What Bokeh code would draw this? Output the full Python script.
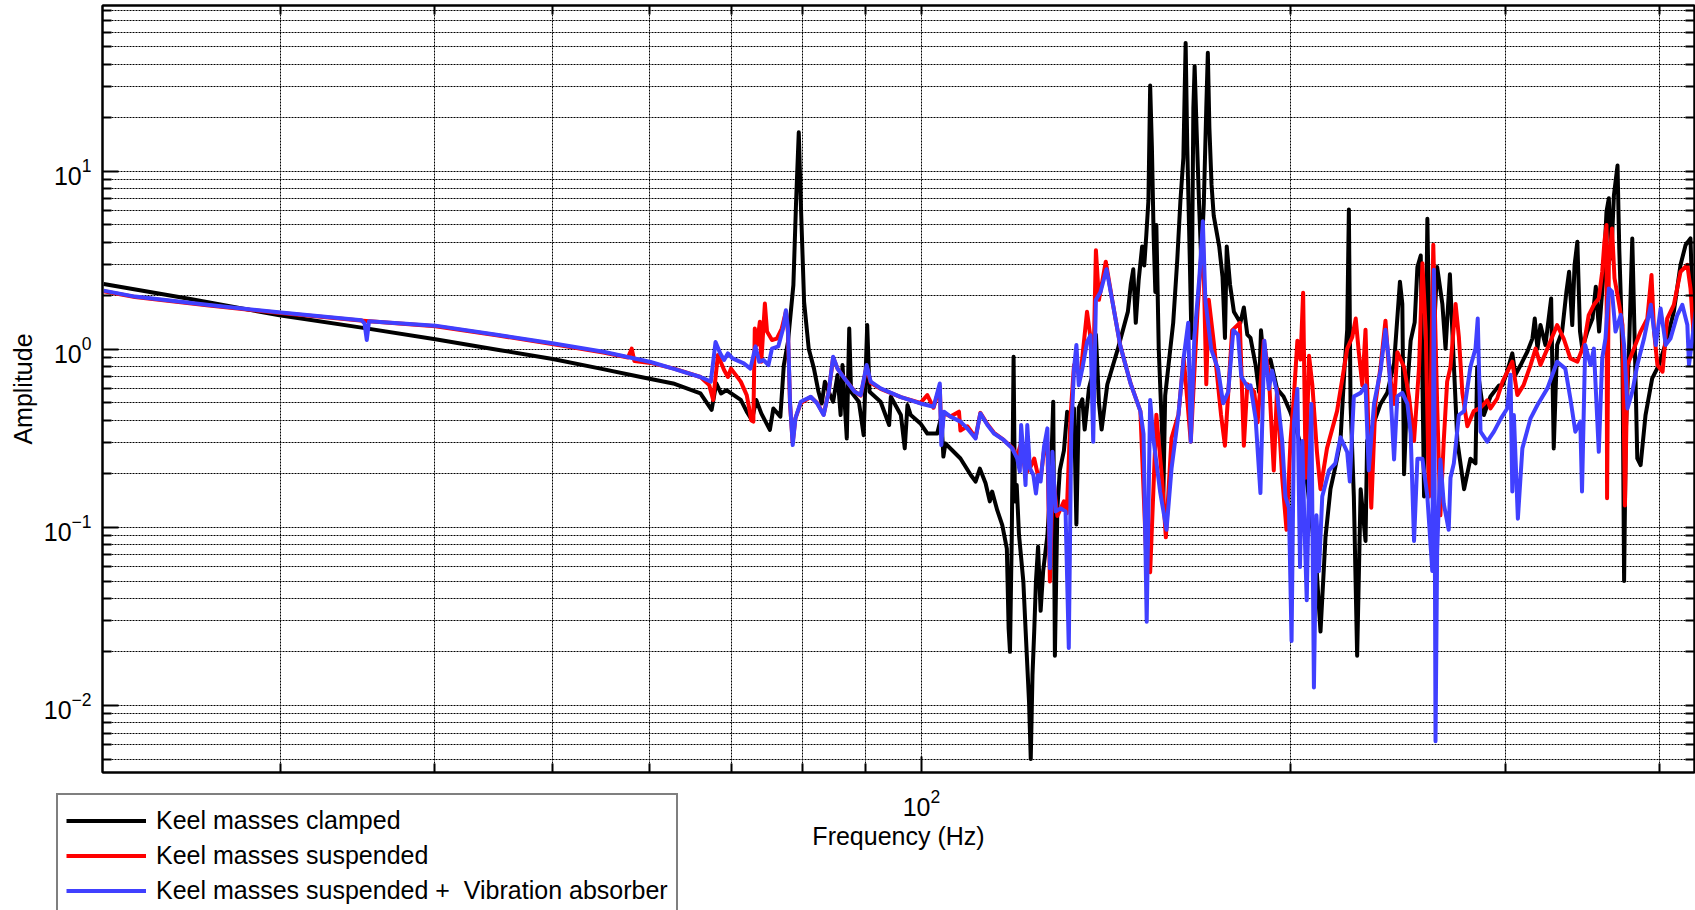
from bokeh.plotting import figure
from bokeh.models import FixedTicker, Legend, LegendItem, Range1d, LogAxis
from bokeh.layouts import column
from bokeh.embed import file_html
from bokeh.resources import INLINE

# ---------------- data ----------------
series_names = ["Keel masses clamped", "Keel masses suspended",
                "Keel masses suspended +  Vibration absorber"]
series_colors = ["#000000", "#ff0000", "#4040ff"]

x_major_ticks = [100]
x_minor_ticks = [30, 40, 50, 60, 70, 80, 90, 200, 300, 400]
y_major_ticks = [0.01, 0.1, 1, 10]
y_minor_ticks = [k * 10.0 ** e for e in (-3, -2, -1, 0, 1) for k in range(2, 10)]

freq_clamped = [21.5, 25.3, 30.0, 34.8, 40.1, 45.3, 50.0, 54.7, 59.0, 62.7, 66.0, 67.4, 68.0, 68.6, 69.3,
                71.2, 72.0, 72.7, 73.3, 74.0, 75.2, 75.7, 76.7, 77.2, 77.8, 78.6, 79.0, 79.4, 79.7, 80.2,
                80.9, 81.7, 82.4, 82.9, 83.4, 84.0, 84.7, 85.4, 85.9, 86.2, 86.9, 87.3, 87.6, 88.9, 89.7,
                90.3, 90.7, 92.6, 94.1, 94.4, 96.2, 96.9, 97.4, 98.0, 99.8, 101.1, 103.0, 103.8, 104.2,
                104.6, 107.6, 109.7, 110.7, 111.6, 112.8, 113.7, 114.2, 115.3, 116.4, 117.4, 117.8, 118.1,
                118.5, 118.9, 119.2, 119.6, 120.1, 121.1, 121.6, 122.4, 122.8, 123.2, 123.6, 124.0, 124.5,
                125.1, 125.7, 126.7, 127.5, 128.1, 128.5, 129.1, 129.7, 130.7, 131.5, 132.6, 133.2, 133.8,
                134.4, 135.3, 135.9, 137.0, 138.3, 138.8, 139.6, 140.3, 141.8, 144.6, 147.4, 148.2, 148.9,
                149.6, 150.4, 151.4, 152.0, 152.6, 153.2, 153.7, 154.2, 154.7, 155.2, 155.5, 156.2, 157.2,
                157.5, 158.1, 159.1, 160.5, 161.7, 162.7, 163.6, 164.3, 164.8, 165.6, 166.1, 166.7, 167.1,
                167.7, 168.5, 169.2, 170.0, 170.8, 171.3, 171.8, 172.5, 173.2, 175.0, 176.1, 176.9, 177.5,
                178.6, 179.9, 182.1, 183.3, 184.5, 185.6, 187.4, 188.6, 189.3, 190.3, 190.9, 192.7, 195.1,
                197.5, 199.9, 202.4, 205.2, 207.8, 210.1, 211.7, 213.7, 215.7, 217.7, 219.8, 221.5, 222.6,
                223.3, 224.0, 225.4, 226.8, 228.3, 230.4, 231.1, 234.1, 237.0, 240.0, 243.1, 245.8, 246.9,
                247.7, 249.3, 250.8, 252.7, 254.0, 255.6, 257.2, 258.8, 260.3, 263.6, 266.2, 267.8, 270.0,
                271.2, 273.8, 277.3, 280.6, 283.3, 284.2, 287.8, 291.4, 296.1, 298.1, 300.7, 303.6, 305.4,
                308.4, 312.3, 315.3, 316.7, 318.3, 320.1, 323.1, 326.6, 328.2, 330.3, 333.4, 336.1, 337.8,
                339.8, 341.3, 343.1, 344.8, 346.3, 349.6, 353.0, 355.2, 357.4, 360.5, 362.4, 364.0, 365.6,
                367.5, 370.0, 371.2, 372.3, 373.5, 374.6, 375.8, 378.1, 380.4, 382.1, 384.0, 386.4, 390.0,
                394.9, 399.9, 406.2, 411.3, 416.5, 420.5, 424.4, 427.1]
amp_clamped = [2.33, 1.92, 1.55, 1.33, 1.14, 0.99, 0.883, 0.78, 0.70, 0.644, 0.566, 0.457, 0.644, 0.566, 0.59,
               0.52, 0.447, 0.401, 0.52, 0.437, 0.353, 0.466, 0.419, 0.817, 1.10, 2.30, 6.75, 16.6, 6.75, 1.85,
               1.01, 0.78, 0.578, 0.497, 0.659, 0.578, 0.508, 0.718, 0.428, 0.817, 0.316, 1.31, 0.578, 0.508, 0.33,
               1.37, 0.578, 0.508, 0.376, 0.542, 0.428, 0.278, 0.487, 0.428, 0.384, 0.337, 0.337, 0.419, 0.25,
               0.296, 0.244, 0.197, 0.181, 0.214, 0.177, 0.14, 0.159, 0.125, 0.103, 0.076, 0.027, 0.02,
               0.091, 0.91, 0.14, 0.173, 0.092, 0.0497, 0.027, 0.0105, 0.005, 0.0148, 0.026, 0.0497, 0.078,
               0.034, 0.057, 0.09, 0.181, 0.508, 0.019, 0.128, 0.21, 0.27, 0.447, 0.38, 0.466, 0.104,
               0.47, 0.525, 0.355, 0.605, 0.78, 1.21, 0.50, 0.355, 0.635, 1.0, 1.63, 2.31, 2.82,
               1.41, 2.43, 3.79, 2.96, 4.41, 6.87, 30.4, 13.8, 4.41, 2.1, 5.0, 1.0, 0.335,
               0.131, 0.55, 0.817, 1.41, 3.11, 6.87, 11.9, 52.7, 13.8, 3.11, 1.16, 22.7, 39.0,
               17.6, 6.54, 3.11, 6.54, 22.7, 46.4, 17.6, 8.4, 5.65, 3.79, 2.55, 1.16, 3.79,
               2.31, 1.63, 1.41, 1.72, 1.21, 1.16, 0.817, 0.577, 1.28, 0.858, 0.797, 0.877, 0.6,
               0.544, 0.45, 0.35, 0.25, 0.12, 0.06, 0.026, 0.088, 0.164, 0.219, 0.306, 0.797, 1.29,
               6.1, 0.494, 0.149, 0.019, 0.164, 0.084, 0.306, 0.389, 0.494, 0.57, 0.836, 2.4, 1.8,
               0.199, 0.628, 1.12, 1.42, 2.9, 3.37, 0.149, 5.42, 0.494, 2.9, 1.8, 1.01, 2.64,
               1.29, 0.306, 0.164, 0.243, 0.229, 0.797, 0.428, 0.544, 0.628, 0.63, 0.75, 0.95, 0.72,
               0.817, 0.97, 1.15, 1.49, 1.01, 1.37, 1.06, 1.93, 0.278, 1.06, 1.26, 2.11, 2.73,
               1.37, 2.98, 4.02, 1.26, 1.01, 1.26, 1.49, 2.25, 1.26, 2.73, 5.94, 7.06, 3.24,
               7.35, 10.8, 3.69, 1.93, 0.817, 0.05, 0.345, 1.01, 4.2, 1.15, 0.244, 0.224, 0.428,
               0.687, 0.817, 1.15, 1.63, 2.98, 3.86, 4.2, 1.01]

freq_suspended = [21.5, 22.8, 26.1, 30.0, 35.0, 40.1, 45.0, 50.1, 55.0, 57.6, 58.0, 58.3, 60.1, 62.8, 66.0,
                  67.1, 67.6, 68.2, 69.0, 69.5, 69.9, 71.2, 72.0, 72.3, 72.6, 72.9, 73.1, 73.4, 73.8, 74.0,
                  74.5, 74.8, 75.5, 76.2, 76.9, 77.5, 77.8, 78.1, 78.5, 78.9, 79.7, 81.2, 82.2, 83.2, 84.0,
                  84.7, 85.4, 86.5, 88.2, 89.2, 90.2, 90.9, 92.6, 96.2, 99.8, 101.1, 102.3, 103.5, 103.8,
                  104.3, 105.6, 107.3, 107.6, 109.0, 110.7, 111.7, 113.2, 114.6, 116.7, 118.6, 119.7, 120.6,
                  121.6, 122.8, 123.6, 124.4, 125.1, 125.9, 126.7, 127.3, 128.0, 129.1, 130.7, 131.4, 132.3,
                  133.2, 134.8, 136.5, 137.4, 138.2, 138.8, 139.6, 141.4, 143.1, 145.3, 148.2, 150.9, 152.7,
                  153.7, 155.5, 157.2, 158.3, 160.0, 162.1, 163.7, 165.9, 168.0, 169.7, 170.8, 171.6, 173.2,
                  175.6, 176.9, 179.3, 181.9, 183.3, 184.5, 186.9, 188.1, 190.3, 192.1, 193.9, 195.1, 197.0,
                  198.6, 200.1, 201.4, 202.7, 203.9, 204.9, 205.9, 207.2, 208.5, 210.3, 211.7, 214.3, 218.4,
                  222.6, 224.7, 226.2, 227.5, 229.0, 230.4, 231.8, 232.9, 234.7, 237.0, 239.2, 240.7, 243.1,
                  244.6, 247.7, 250.0, 252.4, 254.8, 256.4, 258.0, 259.6, 261.7, 263.6, 265.2, 266.9, 268.6,
                  270.3, 272.9, 274.6, 276.4, 279.0, 282.4, 286.0, 289.6, 291.4, 295.1, 298.1, 303.6, 306.5,
                  310.1, 314.2, 317.2, 320.1, 324.3, 330.3, 334.4, 338.6, 343.1, 347.3, 350.5, 353.9, 357.2,
                  359.5, 361.0, 362.4, 362.8, 364.0, 366.2, 367.9, 371.2, 373.5, 375.2, 377.0, 381.6, 386.4,
                  391.3, 394.4, 396.3, 398.8, 402.7, 406.2, 411.3, 416.5, 421.9, 424.4, 427.1]
amp_suspended = [2.12, 1.97, 1.77, 1.60, 1.45, 1.35, 1.20, 1.07, 0.96, 0.90, 1.01, 0.86, 0.84, 0.78, 0.70,
                 0.63, 0.52, 0.93, 0.766, 0.70, 0.78, 0.659, 0.554, 0.476, 0.40, 0.393, 1.31, 1.06, 1.43, 0.853,
                 1.81, 1.26, 1.13, 1.15, 1.31, 1.63, 1.25, 0.50, 0.30, 0.41, 0.50, 0.54, 0.50, 0.43, 0.58,
                 0.90, 0.78, 0.69, 0.58, 0.55, 0.80, 0.65, 0.60, 0.54, 0.50, 0.554, 0.47, 0.62, 0.33,
                 0.44, 0.42, 0.447, 0.35, 0.37, 0.32, 0.44, 0.38, 0.34, 0.31, 0.28, 0.25, 0.30,
                 0.20, 0.22, 0.244, 0.20, 0.19, 0.27, 0.30, 0.0497, 0.20, 0.116, 0.14, 0.12, 0.41,
                 0.817, 0.705, 1.63, 1.16, 0.90, 3.61, 1.9, 3.11, 1.9, 1.05, 0.64, 0.45, 0.059,
                 0.056, 0.43, 0.185, 0.088, 0.318, 0.43, 0.90, 0.303, 1.63, 4.63, 0.638, 1.9, 1.1,
                 0.43, 0.288, 1.28, 1.41, 0.288, 0.638, 0.577, 0.389, 1.12, 0.725, 0.209, 0.6, 0.19,
                 0.097, 0.306, 0.55, 1.12, 0.877, 2.08, 0.19, 0.92, 0.628, 0.265, 0.164, 0.278, 0.45,
                 1.01, 1.17, 1.49, 0.965, 0.628, 1.29, 0.306, 0.129, 0.494, 0.797, 1.45, 0.797, 0.494,
                 0.965, 0.797, 0.544, 0.306, 0.797, 3.05, 1.29, 0.149, 3.87, 0.494, 0.117, 0.306, 0.659,
                 0.797, 1.8, 1.17, 0.57, 0.37, 0.45, 0.47, 0.518, 0.466, 0.53, 0.659, 0.853, 0.554,
                 0.63, 0.817, 1.01, 0.817, 1.01, 1.37, 1.15, 0.89, 0.853, 1.06, 1.56, 1.78, 1.93,
                 2.73, 4.02, 5.0, 0.146, 2.98, 4.78, 2.51, 1.78, 1.37, 0.133, 0.817, 1.01, 1.26,
                 1.49, 2.62, 1.26, 0.817, 0.75, 1.49, 1.78, 2.73, 2.98, 2.2, 1.15]

freq_absorber = [21.5, 22.8, 26.1, 30.0, 34.9, 35.1, 35.25, 35.4, 40.1, 45.0, 50.1, 55.0, 60.1, 62.7, 66.0,
                 67.3, 67.9, 68.5, 69.0, 69.5, 70.1, 71.6, 72.5, 73.2, 73.7, 74.3, 75.0, 75.5, 76.4, 77.1,
                 77.5, 77.8, 78.1, 78.5, 78.9, 79.7, 81.2, 82.2, 83.2, 84.0, 84.7, 85.4, 86.5, 88.2, 89.2,
                 90.2, 90.9, 92.6, 96.2, 99.8, 102.3, 103.5, 103.8, 104.3, 105.6, 107.6, 109.0, 110.7,
                 111.7, 113.2, 114.6, 116.7, 118.6, 119.7, 120.3, 120.6, 121.2, 121.6, 122.0, 122.6, 123.4,
                 124.0, 124.5, 125.1, 125.9, 126.7, 127.3, 127.9, 128.7, 129.9, 131.1, 131.9, 132.5, 133.2,
                 133.8, 134.4, 135.3, 136.5, 137.4, 138.1, 138.8, 140.0, 141.6, 143.1, 145.3, 148.2, 150.9,
                 151.8, 152.7, 153.7, 154.6, 156.6, 158.5, 160.0, 162.1, 163.7, 165.1, 165.9, 167.0, 168.6,
                 169.7, 170.5, 172.4, 174.6, 176.3, 178.0, 179.7, 181.3, 182.4, 184.8, 185.6, 187.4, 189.1,
                 190.5, 192.1, 193.3, 195.1, 197.0, 198.2, 199.5, 200.5, 201.4, 202.7, 203.7, 204.6, 205.3,
                 206.3, 207.2, 208.1, 209.1, 210.1, 211.1, 212.4, 215.1, 217.7, 219.8, 222.6, 223.7, 225.4,
                 228.3, 230.4, 231.8, 234.1, 237.0, 239.2, 240.7, 243.1, 244.6, 246.9, 249.3, 250.8, 252.4,
                 254.0, 256.4, 258.8, 261.2, 262.0, 262.8, 263.6, 265.2, 266.9, 269.4, 270.3, 272.0, 274.6,
                 277.3, 280.6, 283.3, 284.5, 286.0, 289.6, 293.3, 297.2, 300.7, 302.6, 303.6, 304.5, 306.8,
                 309.4, 314.2, 318.3, 324.3, 330.3, 335.4, 338.6, 341.8, 345.0, 346.1, 348.2, 351.7, 353.9,
                 357.2, 359.5, 361.7, 364.0, 366.2, 368.6, 372.2, 374.6, 377.0, 380.4, 384.0, 388.9, 393.9,
                 397.6, 401.2, 405.1, 408.7, 414.0, 417.9, 421.9, 423.2, 428.5]
amp_absorber = [2.14, 1.98, 1.78, 1.61, 1.46, 1.40, 1.13, 1.44, 1.36, 1.21, 1.08, 0.97, 0.85, 0.78, 0.70,
                0.659, 1.10, 0.95, 0.872, 0.95, 0.89, 0.835, 0.78, 1.04, 0.853, 0.872, 0.817, 1.01, 1.04, 1.31,
                1.66, 1.31, 0.508, 0.29, 0.41, 0.508, 0.542, 0.497, 0.428, 0.578, 0.91, 0.78, 0.688, 0.578, 0.554,
                0.817, 0.659, 0.604, 0.54, 0.497, 0.476, 0.644, 0.29, 0.447, 0.419, 0.393, 0.36, 0.316,
                0.437, 0.376, 0.337, 0.31, 0.278, 0.244, 0.206, 0.376, 0.244, 0.173, 0.376, 0.215, 0.197,
                0.155, 0.197, 0.181, 0.284, 0.36, 0.059, 0.266, 0.123, 0.128, 0.123, 0.021, 0.33, 0.78,
                1.06, 0.63, 0.78, 1.10, 1.2, 0.303, 1.9, 2.1, 2.82, 1.9, 1.05, 0.638, 0.45,
                0.335, 0.0295, 0.52, 0.318, 0.159, 0.097, 0.214, 0.43, 0.902, 1.41, 0.303, 1.16, 2.55,
                5.24, 1.9, 1.0, 0.777, 0.498, 0.577, 1.28, 1.21, 0.705, 0.607, 0.628, 0.408, 0.156,
                1.12, 0.6, 0.76, 0.57, 0.306, 0.149, 0.129, 0.023, 0.389, 0.6, 0.06, 0.306, 0.117,
                0.039, 0.19, 0.494, 0.0126, 0.117, 0.057, 0.149, 0.209, 0.229, 0.321, 0.265, 0.181, 0.544,
                0.57, 0.628, 0.209, 0.494, 0.76, 1.29, 0.877, 0.241, 0.544, 0.57, 0.494, 0.337, 0.084,
                0.243, 0.243, 0.149, 0.057, 2.8, 0.0063, 0.0726, 0.241, 0.136, 0.097, 0.19, 0.229, 0.428,
                0.45, 0.797, 1.01, 1.49, 0.345, 0.303, 0.345, 0.41, 0.466, 0.72, 0.159, 0.428, 0.112,
                0.278, 0.41, 0.487, 0.604, 0.853, 0.78, 0.53, 0.345, 0.393, 0.159, 1.06, 0.817, 1.01,
                0.266, 0.89, 1.15, 2.2, 2.11, 1.26, 1.56, 1.06, 0.466, 0.578, 0.817, 1.15, 1.78,
                1.06, 1.7, 1.06, 1.15, 1.56, 1.78, 1.37, 0.817, 1.63]

x_limits = (21.45, 427.6)
y_limits = (0.0042, 85.5)

# ---------------- main figure ----------------
FONT = "Liberation Sans"
FS = "25px"
LW = 4

p = figure(width=1695, height=910, x_axis_type="log", y_axis_type="log",
           x_range=Range1d(*x_limits), y_range=Range1d(*y_limits),
           output_backend="svg", toolbar_location=None,
           min_border_left=102, min_border_right=1, min_border_top=5, min_border_bottom=138)
p.frame_align = False

p.background_fill_color = "white"
p.border_fill_color = "white"
p.outline_line_color = "black"
p.outline_line_width = 2
p.outline_line_alpha = 1.0

xt = FixedTicker(ticks=x_major_ticks, minor_ticks=x_minor_ticks)
yt = FixedTicker(ticks=y_major_ticks, minor_ticks=y_minor_ticks)
p.xaxis.ticker = xt
p.yaxis.ticker = yt

for ax in (p.xaxis[0], p.yaxis[0]):
    ax.axis_line_color = "black"
    ax.axis_line_width = 2
    ax.major_tick_in = 16
    ax.major_tick_out = 0
    ax.minor_tick_in = 9
    ax.minor_tick_out = 0
    ax.major_tick_line_width = 2
    ax.minor_tick_line_width = 2
    ax.major_tick_line_color = "black"
    ax.minor_tick_line_color = "black"
    ax.major_label_text_font = FONT
    ax.major_label_text_font_size = FS
    ax.major_label_text_color = "black"
    ax.axis_label_text_font = FONT
    ax.axis_label_text_font_size = FS
    ax.axis_label_text_font_style = "normal"
    ax.axis_label_text_color = "black"

p.xaxis.axis_label = "Frequency (Hz)"
p.yaxis.axis_label = "Amplitude"
p.xaxis.major_label_standoff = 16
p.xaxis.axis_label_standoff = 3
p.yaxis.major_label_standoff = 11
p.yaxis.axis_label_standoff = 4

# mirrored tick marks on the top and right edges (no labels)
for loc, ticks in (("above", x_major_ticks + x_minor_ticks), ("right", y_major_ticks + y_minor_ticks)):
    a = LogAxis(ticker=FixedTicker(ticks=[], minor_ticks=ticks))
    a.axis_line_color = "black"
    a.axis_line_width = 2
    a.minor_tick_in = 9
    a.minor_tick_out = 0
    a.major_tick_in = 0
    a.major_tick_out = 0
    a.major_label_standoff = 0
    a.axis_label_standoff = 0
    a.minor_tick_line_width = 2
    a.minor_tick_line_color = "black"
    p.add_layout(a, loc)

for g in (p.xgrid[0], p.ygrid[0]):
    g.grid_line_color = "black"
    g.grid_line_dash = "2 1"
    g.grid_line_width = 1
    g.grid_line_alpha = 1.0
    g.minor_grid_line_color = "black"
    g.minor_grid_line_dash = "2 1"
    g.minor_grid_line_width = 1
    g.minor_grid_line_alpha = 1.0

series = [(freq_clamped, amp_clamped), (freq_suspended, amp_suspended), (freq_absorber, amp_absorber)]
for (fx, ay), col in zip(series, series_colors):
    p.line(fx, ay, line_color=col, line_width=LW, line_join="round")

# ---------------- legend (overlapping strip below the axes) ----------------
lfig = figure(width=680, height=140, x_range=(0, 1), y_range=(0, 1),
              output_backend="svg", toolbar_location=None, min_border=0,
              x_axis_location=None, y_axis_location=None)
lfig.frame_align = False
lfig.outline_line_color = None
lfig.background_fill_color = None
lfig.border_fill_color = None
lfig.grid.visible = False
lfig.margin = (-140, 0, 0, 54)

# same series, out of this strip's view: only their legend glyphs are shown
legend_renderers = [lfig.line(fx, ay, line_color=col, line_width=LW)
                    for (fx, ay), col in zip(series, series_colors)]
legend = Legend(items=[LegendItem(label=n, renderers=[r]) for n, r in zip(series_names, legend_renderers)],
                location=(2, -8))
legend.label_text_font = FONT
legend.label_text_font_size = FS
legend.label_text_color = "black"
legend.glyph_width = 80
legend.glyph_height = 35
legend.label_height = 35
legend.label_standoff = 10
legend.spacing = 0
legend.padding = 8
legend.margin = 0
legend.border_line_color = "black"
legend.border_line_width = 2
legend.background_fill_color = "white"
legend.background_fill_alpha = 1.0
lfig.add_layout(legend, "center")

root = column(p, lfig, spacing=0)
open("out.html", "w").write(file_html(root, INLINE))
